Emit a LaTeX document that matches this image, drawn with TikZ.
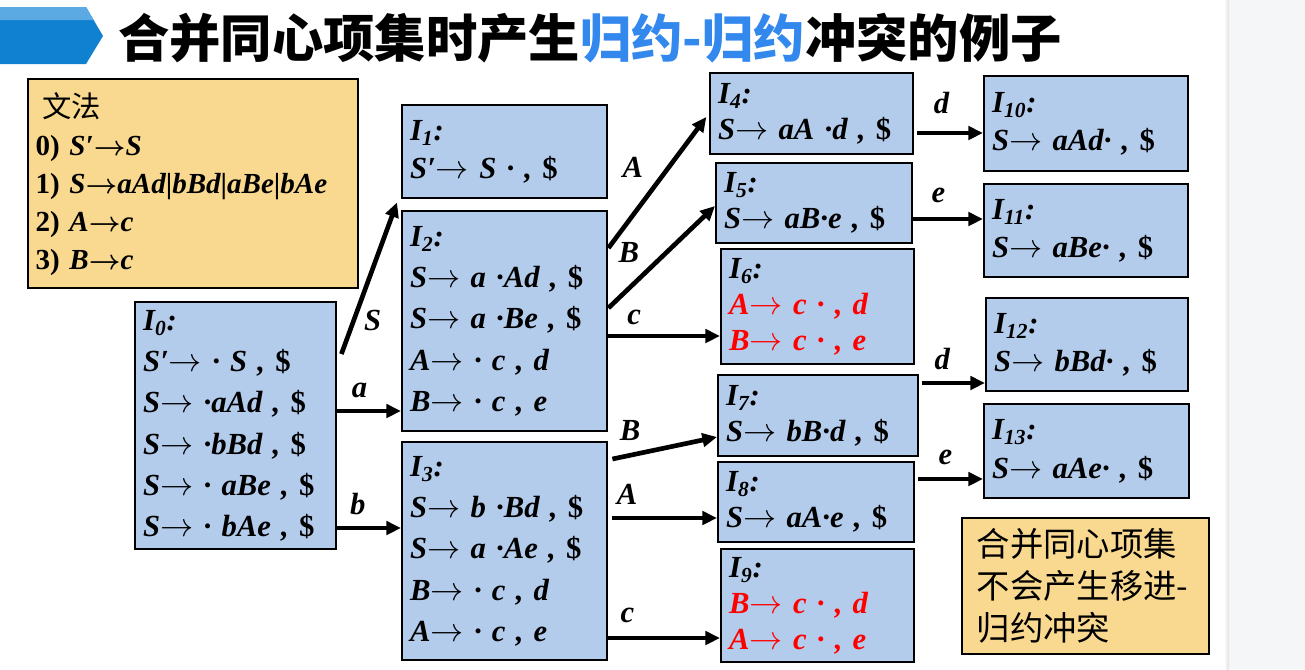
\documentclass[tikz,border=0pt]{standalone}
\usepackage{fontspec}
\setmainfont{Liberation Serif}
\newfontfamily\cjk{Noto Sans CJK SC}
\usepackage{tikz}
\usetikzlibrary{arrows.meta,positioning,calc}
\definecolor{stateblue}{RGB}{180,204,236}
\definecolor{notebox}{RGB}{249,217,143}
\definecolor{titleblue}{RGB}{51,136,238}
\definecolor{tabdark}{RGB}{16,128,208}
\definecolor{tablight}{RGB}{92,170,228}
\definecolor{sidegray}{RGB}{245,246,248}
\newcommand\itemfont[1]{\bfseries\itshape\fontsize{23}{#1}\selectfont}
\newcommand\ra{$\rightarrow$}
\newcommand\gra{{\boldmath$\rightarrow$}}
\newcommand\dol{{\upshape\$}}
\newcommand\conf[1]{\textcolor{red}{#1}}
\tikzstyle{state}=[draw,line width=1.8pt,fill=stateblue,anchor=north west,align=left,inner xsep=6pt,inner ysep=0pt,font=\itemfont{31}]
\tikzstyle{gram}=[draw,line width=1.8pt,fill=notebox,anchor=north west,align=left,inner xsep=5.5pt,inner ysep=0pt]
\tikzstyle{trans}=[line width=3.5pt,-{Triangle[length=11pt,width=10pt]}]
\tikzstyle{lbl}=[font=\itemfont{24},inner sep=0pt]

\begin{document}
\begin{tikzpicture}[x=0.75pt,y=-0.75pt]
\useasboundingbox (0,0) rectangle (1305,669);
% page strip and title tab
\fill[sidegray] (1228,0) rectangle (1305,669);
\shade[left color=white,right color=black!12] (1224,0) rectangle (1229,669);
\fill[tabdark] (0,7) -- (86,7) -- (103,36) -- (86,64) -- (0,64) -- cycle;
\fill[tablight] (0,7) -- (86,7) -- (93.6,20) -- (0,20) -- cycle;
\node[anchor=west,inner sep=0pt,font=\cjk\bfseries\fontsize{38.5}{40}\selectfont] (title) at (118,38)
  {合并同心项集时产生{\color{titleblue}归约-归约}冲突的例子};

% grammar
\node[gram,text width=236.5pt,minimum height=156.75pt,font=\bfseries\fontsize{21.8}{28.5}\selectfont] (G) at (27,78)
  {{\cjk\mdseries\fontsize{22}{34}\selectfont\hspace*{5pt}文法}\\
   0) {\itshape S′\gra S}\\
   1) {\itshape S\gra aAd{\upshape|}bBd{\upshape|}aBe{\upshape|}bAe}\\
   2) {\itshape A\gra c}\\
   3) {\itshape B\gra c}};

% item sets
\node[state,text width=138.75pt,minimum height=185.25pt] (I0) at (134,301)
  {I\textsubscript{0}:\\
   S′\ra\ · S , \dol\\
   S\ra\ ·aAd , \dol\\
   S\ra\ ·bBd , \dol\\
   S\ra\ · aBe , \dol\\
   S\ra\ · bAe , \dol};
\node[state,text width=141.75pt,minimum height=69.75pt,font=\itemfont{29}] (I1) at (401,104)
  {I\textsubscript{1}:\\ S′\ra\ S · , \dol};
\node[state,text width=141.75pt,minimum height=165pt] (I2) at (401,210)
  {I\textsubscript{2}:\\
   S\ra\ a ·Ad , \dol\\
   S\ra\ a ·Be , \dol\\
   A\ra\ · c , d\\
   B\ra\ · c , e};
\node[state,text width=141.75pt,minimum height=163.5pt] (I3) at (401,441)
  {I\textsubscript{3}:\\
   S\ra\ b ·Bd , \dol\\
   S\ra\ a ·Ae , \dol\\
   B\ra\ · c , d\\
   A\ra\ · c , e};
\node[state,text width=140.25pt,minimum height=60.75pt,font=\itemfont{27}] (I4) at (709,72)
  {I\textsubscript{4}:\\ S\ra\ aA ·d , \dol};
\node[state,text width=135pt,minimum height=60pt,font=\itemfont{27}] (I5) at (715,162)
  {I\textsubscript{5}:\\ S\ra\ aB·e , \dol};
\node[state,text width=132.75pt,minimum height=86.25pt,font=\itemfont{27}] (I6) at (720,248)
  {I\textsubscript{6}:\\ \conf{A\ra\ c · , d}\\ \conf{B\ra\ c · , e}};
\node[state,text width=138pt,minimum height=60.75pt,font=\itemfont{27}] (I7) at (717,374)
  {I\textsubscript{7}:\\ S\ra\ bB·d , \dol};
\node[state,text width=135pt,minimum height=60pt,font=\itemfont{27}] (I8) at (717,461)
  {I\textsubscript{8}:\\ S\ra\ aA·e , \dol};
\node[state,text width=132.75pt,minimum height=84.75pt,font=\itemfont{27}] (I9) at (720,548)
  {I\textsubscript{9}:\\ \conf{B\ra\ c · , d}\\ \conf{A\ra\ c · , e}};
\node[state,text width=141pt,minimum height=71.25pt,font=\itemfont{29}] (I10) at (983,75)
  {I\textsubscript{10}:\\ S\ra\ aAd· , \dol};
\node[state,text width=141pt,minimum height=69.75pt,font=\itemfont{29}] (I11) at (983,183)
  {I\textsubscript{11}:\\ S\ra\ aBe· , \dol};
\node[state,text width=139.5pt,minimum height=69.75pt,font=\itemfont{29}] (I12) at (985,297)
  {I\textsubscript{12}:\\ S\ra\ bBd· , \dol};
\node[state,text width=141.75pt,minimum height=70.5pt,font=\itemfont{29}] (I13) at (983,403)
  {I\textsubscript{13}:\\ S\ra\ aAe· , \dol};

% note
\node[gram,text width=163.25pt,inner xsep=11pt,minimum height=102pt,font=\cjk\fontsize{25}{31.5}\selectfont] (N) at (961,517)
  {合并同心项集\\不会产生移进-\\归约冲突};

% transitions
\draw[trans] ([xshift=3pt,yshift=-39.75pt]I0.north east) -- ([xshift=-3pt,yshift=-2.25pt]I1.south west)
  node[lbl,pos=0.14,anchor=south west,xshift=9.5pt] (lS) {S};
\draw[trans] ([yshift=-82.5pt]I0.north east) coordinate (a0) -- (a0 -| I2.west)
  node[lbl,pos=0.35,above=8pt] (la) {a};
\draw[trans] ([yshift=-170.25pt]I0.north east) coordinate (b0) -- (b0 -| I3.west)
  node[lbl,pos=0.32,above=8pt] (lb) {b};
\draw[trans] ([yshift=-28.5pt]I2.north east) -- ([xshift=-2pt,yshift=-33.75pt]I4.north west)
  node[lbl,pos=0.52,anchor=south east,xshift=-10.5pt] (lA2) {A};
\draw[trans] ([yshift=-73.5pt]I2.north east) -- ([yshift=-33pt]I5.north west)
  node[lbl,pos=0.42,anchor=south east,xshift=-8.9pt] (lB2) {B};
\draw[trans] ([yshift=-94.5pt]I2.north east) coordinate (c2) -- (c2 -| I6.west)
  node[lbl,pos=0.23,above=7pt] (lc2) {c};
\draw[trans] ([xshift=3pt,yshift=-13.5pt]I3.north east) -- ([yshift=-47.25pt]I7.north west)
  node[lbl,pos=0.17,above=9pt] (lB3) {B};
\draw[trans] ([xshift=3pt,yshift=-57.75pt]I3.north east) coordinate (a3) -- (a3 -| I8.west)
  node[lbl,pos=0.14,above=8.5pt] (lA3) {A};
\draw[trans] ([yshift=-147.75pt]I3.north east) coordinate (c3) -- (c3 -| I9.west)
  node[lbl,pos=0.17,above=10pt] (lc3) {c};
\draw[trans] ([xshift=2pt,yshift=-45.75pt]I4.north east) coordinate (d4) -- (d4 -| I10.west)
  node[lbl,pos=0.37,above=12.5pt] (ld4) {d};
\draw[trans] ([yshift=-42.75pt]I5.north east) coordinate (e5) -- (e5 -| I11.west)
  node[lbl,pos=0.36,above=10.5pt] (le5) {e};
\draw[trans] ([xshift=2pt,yshift=-6.75pt]I7.north east) coordinate (d7) -- (d7 -| I12.west)
  node[lbl,pos=0.32,above=8.5pt] (ld7) {d};
\draw[trans] ([xshift=2pt,yshift=-13.5pt]I8.north east) coordinate (e8) -- (e8 -| I13.west)
  node[lbl,pos=0.42,above=9pt] (le8) {e};
\end{tikzpicture}
\end{document}
